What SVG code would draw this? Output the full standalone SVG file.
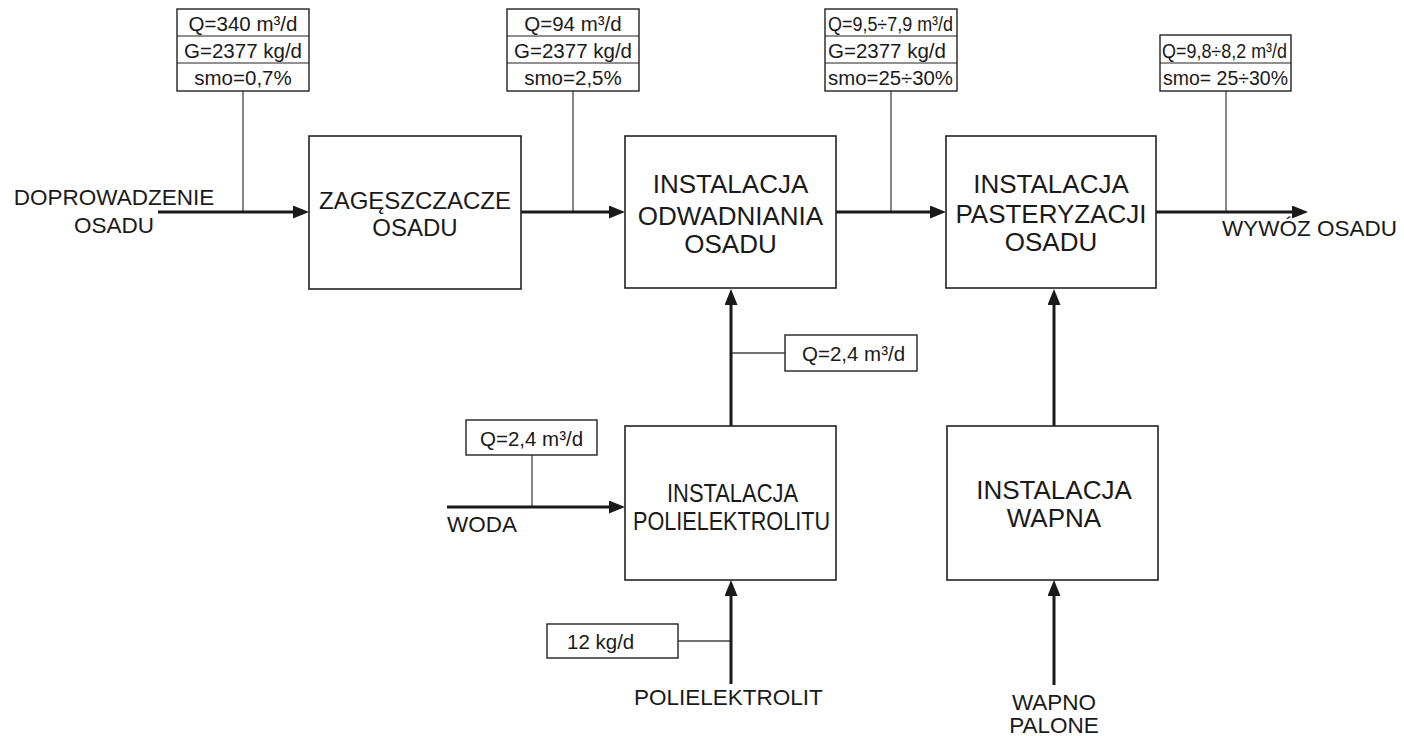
<svg xmlns="http://www.w3.org/2000/svg" width="1404" height="736" viewBox="0 0 1404 736">
<style>
text{font-family:"Liberation Sans",Arial,sans-serif;fill:#1a1a1a}
.box{fill:#fff;stroke:#222;stroke-width:1.6}
.lbl{fill:#fff;stroke:#222;stroke-width:1.4}
.div{stroke:#222;stroke-width:1.2}
.big{font-size:26px;text-anchor:middle}
.sm{font-size:20.5px}
.c{text-anchor:middle}
.out{font-size:22.5px}
.flow{stroke:#1a1a1a;stroke-width:3;fill:none;marker-end:url(#ah)}
.tick{stroke:#444;stroke-width:1.3;fill:none}
</style>
<defs>
<marker id="ah" markerUnits="userSpaceOnUse" markerWidth="16" markerHeight="13" refX="10" refY="6.5" orient="auto">
<path d="M0,0 L16,6.5 L0,13 Z" fill="#1a1a1a"/>
</marker>
</defs>

<g id="connectors">
<line class="tick" x1="243" y1="91" x2="243" y2="212"/>
<line class="tick" x1="573" y1="91" x2="573" y2="212"/>
<line class="tick" x1="891" y1="91" x2="891" y2="212"/>
<line class="tick" x1="1226" y1="91" x2="1226" y2="212"/>
<line class="tick" x1="731" y1="353" x2="785" y2="353"/>
<line class="tick" x1="532" y1="455" x2="532" y2="507"/>
<line class="tick" x1="678" y1="641" x2="731" y2="641"/>
<line class="flow" x1="158" y1="212" x2="303" y2="212"/>
<line class="flow" x1="521" y1="212" x2="619" y2="212"/>
<line class="flow" x1="836" y1="212" x2="940" y2="212"/>
<line class="flow" x1="1156" y1="212" x2="1302" y2="212"/>
<line class="flow" x1="731" y1="426" x2="731" y2="295"/>
<line class="flow" x1="447" y1="507" x2="619" y2="507"/>
<line class="flow" x1="731" y1="684" x2="731" y2="586"/>
<line class="flow" x1="1054" y1="426" x2="1054" y2="295"/>
<line class="flow" x1="1054" y1="685" x2="1054" y2="586"/>
</g>

<g id="in-label">
<text class="out c" x="114" y="205">DOPROWADZENIE</text>
<text class="out c" x="114" y="233">OSADU</text>
</g>

<g id="zagesz">
<rect class="box" x="309" y="136" width="212" height="153"/>
<text x="415" y="209" style="font-size:24px;text-anchor:middle">ZAGĘSZCZACZE</text>
<text x="415" y="236" style="font-size:24px;text-anchor:middle">OSADU</text>
</g>

<g id="odwadn">
<rect class="box" x="625" y="136" width="211" height="152"/>
<text class="big" x="730.5" y="193">INSTALACJA</text>
<text class="big" x="730.5" y="225">ODWADNIANIA</text>
<text class="big" x="730.5" y="253">OSADU</text>
</g>

<g id="paster">
<rect class="box" x="946" y="136" width="210" height="152"/>
<text class="big" x="1051" y="193">INSTALACJA</text>
<text class="big" x="1051" y="223">PASTERYZACJI</text>
<text class="big" x="1051" y="251">OSADU</text>
</g>

<g id="poliel">
<rect class="box" x="625" y="426" width="211" height="154"/>
<text x="732.5" y="502" style="font-size:25px;text-anchor:middle" textLength="131" lengthAdjust="spacingAndGlyphs">INSTALACJA</text>
<text x="731.5" y="530" style="font-size:25px;text-anchor:middle" textLength="197" lengthAdjust="spacingAndGlyphs">POLIELEKTROLITU</text>
</g>

<g id="wapna">
<rect class="box" x="947" y="426" width="211" height="154"/>
<text class="big" x="1054" y="499">INSTALACJA</text>
<text class="big" x="1054" y="527">WAPNA</text>
</g>

<g id="lab1">
<rect class="lbl" x="177" y="9" width="132" height="82"/>
<line class="div" x1="177" y1="36" x2="309" y2="36"/>
<line class="div" x1="177" y1="63" x2="309" y2="63"/>
<text class="sm c" x="243" y="31">Q=340 m³/d</text>
<text class="sm c" x="243" y="58">G=2377 kg/d</text>
<text class="sm c" x="243" y="85">smo=0,7%</text>
</g>

<g id="lab2">
<rect class="lbl" x="507" y="9" width="132" height="82"/>
<line class="div" x1="507" y1="36" x2="639" y2="36"/>
<line class="div" x1="507" y1="63" x2="639" y2="63"/>
<text class="sm c" x="573" y="31">Q=94 m³/d</text>
<text class="sm c" x="573" y="58">G=2377 kg/d</text>
<text class="sm c" x="573" y="85">smo=2,5%</text>
</g>

<g id="lab3">
<rect class="lbl" x="825" y="9" width="132" height="82"/>
<line class="div" x1="825" y1="36" x2="957" y2="36"/>
<line class="div" x1="825" y1="63" x2="957" y2="63"/>
<text class="sm" x="828" y="31" textLength="125" lengthAdjust="spacingAndGlyphs">Q=9,5÷7,9 m³/d</text>
<text class="sm" x="828" y="58">G=2377 kg/d</text>
<text class="sm" x="828" y="85" textLength="125" lengthAdjust="spacingAndGlyphs">smo=25÷30%</text>
</g>

<g id="lab4">
<rect class="lbl" x="1160" y="35" width="131" height="56"/>
<line class="div" x1="1160" y1="63" x2="1291" y2="63"/>
<text class="sm" x="1162" y="58" textLength="125" lengthAdjust="spacingAndGlyphs">Q=9,8÷8,2 m³/d</text>
<text class="sm" x="1163" y="85" textLength="125" lengthAdjust="spacingAndGlyphs">smo= 25÷30%</text>
</g>

<g id="lab5">
<rect class="lbl" x="785" y="335" width="132" height="36"/>
<text class="sm" x="802" y="361">Q=2,4 m³/d</text>
</g>

<g id="lab6">
<rect class="lbl" x="466" y="420" width="131" height="35"/>
<text class="sm" x="480" y="446">Q=2,4 m³/d</text>
</g>

<g id="lab7">
<rect class="lbl" x="547" y="624" width="131" height="34"/>
<text class="sm" x="567" y="649">12 kg/d</text>
</g>

<g id="out-labels">
<text class="out" x="1222" y="236">WYWÓZ OSADU</text>
<text class="out" x="447" y="532">WODA</text>
<text class="out" x="634" y="705">POLIELEKTROLIT</text>
<text class="out c" x="1054" y="710">WAPNO</text>
<text class="out c" x="1054" y="733">PALONE</text>
</g>
</svg>
